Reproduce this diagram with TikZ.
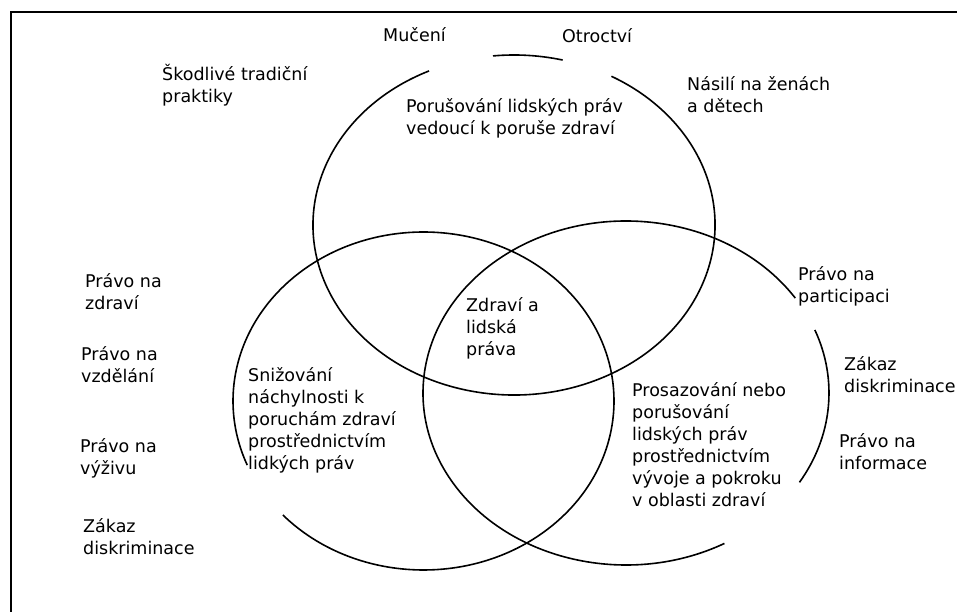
\documentclass[tikz,border=0pt]{standalone}
\usepackage{fontspec}
\setmainfont{DejaVu Sans}
\begin{document}
\begin{tikzpicture}[x=1pt,y=1pt,
  frameline/.style={line width=1.6pt,black},
  ring/.style={line width=1.6pt,black},
  lbl/.style={anchor=base west,inner sep=0pt,align=left,
    font=\fontsize{17.5}{22}\selectfont}]
\useasboundingbox (0,0) rectangle (957,612);
% frame (top and left edges only)
\coordinate (ftr) at (957,600);
\coordinate (ftl) at (11,600);
\coordinate (fbl) at (11,0);
\draw[frameline] (ftr) -- (ftl) -- (fbl);
% ellipse centres
\coordinate (c1) at (514,387);
\coordinate (c2) at (423.5,211);
\coordinate (c3) at (626,219);
% top ellipse
\draw[ring] ([shift={(115:201pt and 170pt)}]c1) arc[start angle=115,end angle=421,x radius=201pt,y radius=170pt];
\draw[ring] ([shift={(76:201pt and 170pt)}]c1) arc[start angle=76,end angle=96,x radius=201pt,y radius=170pt];
% left ellipse
\draw[ring] ([shift={(222.4:190.5pt and 169pt)}]c2) arc[start angle=222.4,end angle=562.3,x radius=190.5pt,y radius=169pt];
% right ellipse
\draw[ring] ([shift={(33.5:203pt and 172pt)}]c3) arc[start angle=33.5,end angle=299,x radius=203pt,y radius=172pt];
\draw[ring] ([shift={(-31.3:203pt and 172pt)}]c3) arc[start angle=-31.3,end angle=21.5,x radius=203pt,y radius=172pt];
% labels (base = baseline of the last line)
\node[lbl] (mucen) at (383,570) {Mučení};
\node[lbl] (otroc) at (562,569) {Otroctví};
\node[lbl] (skod) at (162,509) {Škodlivé tradiční\\praktiky};
\node[lbl] (poru) at (406,477) {Porušování lidských práv\\vedoucí k poruše zdraví};
\node[lbl] (nasil) at (687,499) {Násilí na ženách\\a dětech};
\node[lbl] (pzdr) at (85,302) {Právo na\\zdraví};
\node[lbl] (pvzd) at (81,229) {Právo na\\vzdělání};
\node[lbl] (pvyz) at (80,137) {Právo na\\výživu};
\node[lbl] (zakl) at (83,57) {Zákaz\\diskriminace};
\node[lbl] (sniz) at (248,142) {Snižování\\náchylnosti k\\poruchám zdraví\\prostřednictvím\\lidkých práv};
\node[lbl] (zdlp) at (466,256) {Zdraví a\\lidská\\práva};
\node[lbl] (pros) at (632,105) {Prosazování nebo\\porušování\\lidských práv\\prostřednictvím\\vývoje a pokroku\\v oblasti zdraví};
\node[lbl] (ppar) at (798,309) {Právo na\\participaci};
\node[lbl] (zakr) at (844,219) {Zákaz\\diskriminace};
\node[lbl] (pinf) at (839,142) {Právo na\\informace};
\end{tikzpicture}
\end{document}
